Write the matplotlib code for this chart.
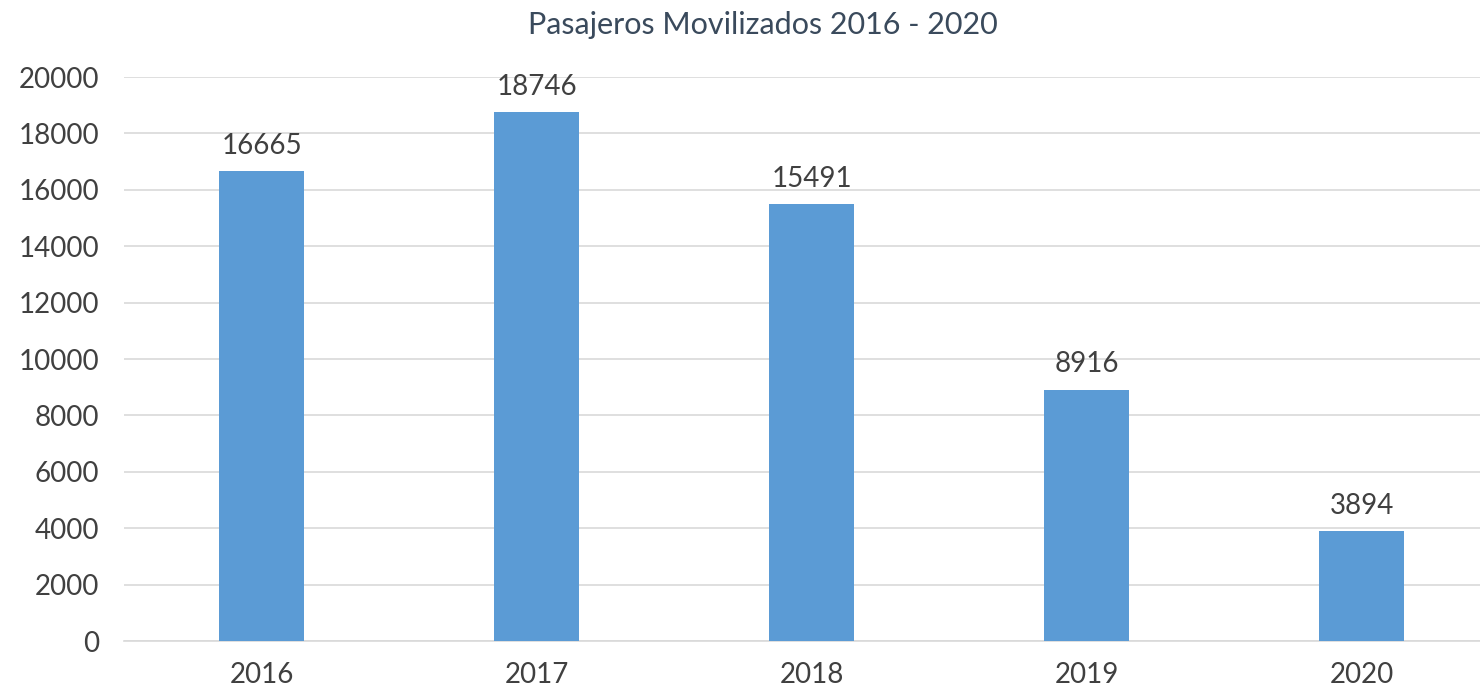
import matplotlib
matplotlib.use("Agg")
import matplotlib.pyplot as plt

years = ["2016", "2017", "2018", "2019", "2020"]
pasajeros = [16665, 18746, 15491, 8916, 3894]
yticks = [0, 2000, 4000, 6000, 8000, 10000, 12000, 14000, 16000, 18000, 20000]
title = "Pasajeros Movilizados 2016 - 2020"

plt.rcParams['font.family'] = ['Lato', 'DejaVu Sans']

fig = plt.figure(figsize=(14.8, 6.88), dpi=100)
ax = fig.add_axes([124/1480, 1 - 641/688, 1 - 124/1480, (641 - 77)/688])

x = list(range(len(years)))
bars = ax.bar(x, pasajeros, width=0.31, color="#5B9BD5", zorder=3)
for xi, v in zip(x, pasajeros):
    ax.annotate(str(v), (xi, v), xytext=(0, 9), textcoords="offset points",
                ha="center", va="bottom", fontsize=20, color="#404040")

ax.set_xlim(-0.5, 4.43)
ax.set_ylim(0, 20000)
ax.set_yticks(yticks)
ax.set_yticklabels([str(t) for t in yticks])
ax.set_xticks(x)
ax.set_xticklabels(years)
ax.tick_params(axis="both", length=0, labelsize=20, labelcolor="#404040")
ax.tick_params(axis="y", pad=18)
ax.tick_params(axis="x", pad=15)
ax.grid(axis="y", color="#D9D9D9", linewidth=1.2, zorder=0)
for s in ["top", "right", "left"]:
    ax.spines[s].set_visible(False)
ax.spines["bottom"].set_color("#D9D9D9")
ax.spines["bottom"].set_linewidth(1.2)

fig.text(763/1480, 1 - 25/688, title, ha="center", va="center", fontsize=22, color="#3A4A5C")

fig.savefig("out.png", dpi=100)
